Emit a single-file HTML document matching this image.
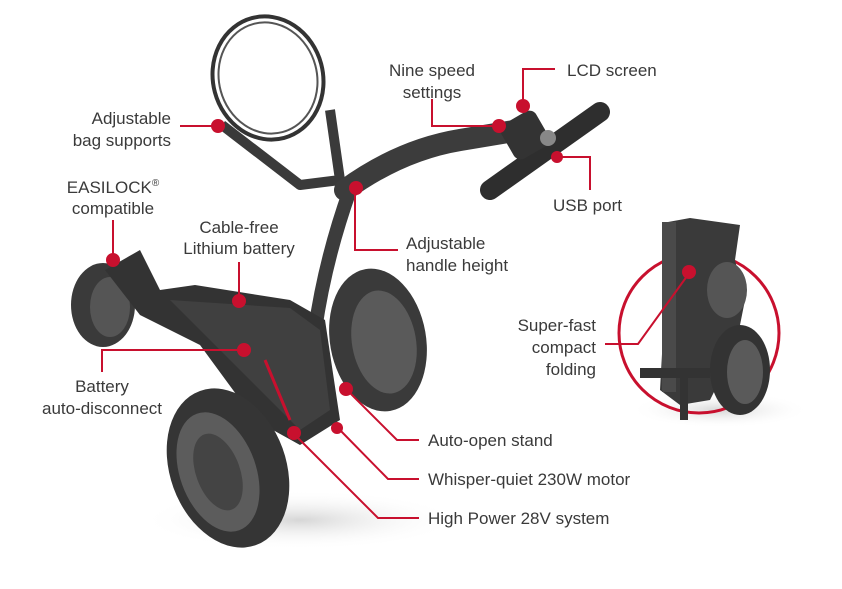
<!DOCTYPE html>
<html><head><style>
html,body{margin:0;padding:0;background:#fff;}
svg{display:block}
text{font-family:"Liberation Sans",sans-serif;font-size:17px;fill:#3a3a3a;}
</style></head><body>
<svg width="842" height="589" viewBox="0 0 842 589" xmlns="http://www.w3.org/2000/svg">
<defs>
<radialGradient id="sh" cx="50%" cy="50%" r="50%"><stop offset="0" stop-color="#bbb" stop-opacity=".6"/><stop offset="1" stop-color="#fff" stop-opacity="0"/></radialGradient>
</defs>
<!-- shadows -->
<ellipse cx="300" cy="520" rx="160" ry="30" fill="url(#sh)"/>
<ellipse cx="720" cy="410" rx="90" ry="18" fill="url(#sh)"/>

<!-- bag ring -->
<ellipse cx="268" cy="78" rx="55" ry="62" transform="rotate(-15 268 78)" fill="none" stroke="#333" stroke-width="4"/>
<ellipse cx="268" cy="78" rx="49" ry="56" transform="rotate(-15 268 78)" fill="none" stroke="#555" stroke-width="2"/>
<path d="M222 125 L300 185 L340 180 L330 110" fill="none" stroke="#3a3a3a" stroke-width="10" stroke-linejoin="round"/>
<!-- handle -->
<path d="M315 330 Q325 260 350 190" fill="none" stroke="#3c3c3c" stroke-width="14" stroke-linecap="round"/>
<path d="M345 190 Q400 150 460 140 L520 130" fill="none" stroke="#3c3c3c" stroke-width="22" stroke-linecap="round"/>
<path d="M490 190 L600 112" fill="none" stroke="#2e2e2e" stroke-width="20" stroke-linecap="round"/>
<rect x="505" y="115" width="40" height="40" rx="8" fill="#333" transform="rotate(-30 525 135)"/>
<circle cx="548" cy="138" r="8" fill="#888"/>
<!-- back right wheel -->
<ellipse cx="378" cy="340" rx="48" ry="72" transform="rotate(-10 378 340)" fill="#3a3a3a"/>
<ellipse cx="384" cy="342" rx="32" ry="52" transform="rotate(-10 384 342)" fill="#5a5a5a"/>
<!-- small left wheel -->
<ellipse cx="103" cy="305" rx="32" ry="42" fill="#3a3a3a"/>
<ellipse cx="110" cy="307" rx="20" ry="30" fill="#555"/>
<!-- body -->
<path d="M105 270 L140 250 L160 290 L195 285 L290 300 L325 320 L340 420 L300 445 L255 420 L200 345 L140 315 Z" fill="#333"/>
<path d="M170 300 L290 308 L320 330 L330 410 L300 430 Z" fill="#404040"/>
<path d="M265 360 L290 420" stroke="#c8102e" stroke-width="3"/>
<!-- front wheel -->
<ellipse cx="228" cy="468" rx="58" ry="82" transform="rotate(-20 228 468)" fill="#353535"/>
<ellipse cx="218" cy="472" rx="38" ry="62" transform="rotate(-20 218 472)" fill="#5c5c5c"/>
<ellipse cx="218" cy="472" rx="22" ry="40" transform="rotate(-20 218 472)" fill="#444"/>

<!-- folded trolley -->
<circle cx="699" cy="333" r="80" fill="none" stroke="#c8102e" stroke-width="3"/>
<path d="M668 222 L690 218 L740 225 L735 260 L745 300 L735 350 L710 400 L680 405 L660 390 L665 300 Z" fill="#3a3a3a"/>
<rect x="662" y="222" width="14" height="170" fill="#4a4a4a"/>
<ellipse cx="727" cy="290" rx="20" ry="28" fill="#555"/>
<ellipse cx="740" cy="370" rx="30" ry="45" fill="#333"/>
<ellipse cx="745" cy="372" rx="18" ry="32" fill="#5a5a5a"/>
<rect x="640" y="368" width="70" height="10" fill="#333"/>
<rect x="680" y="375" width="8" height="45" fill="#333"/>

<!-- connectors -->
<g fill="none" stroke="#c8102e" stroke-width="2">
<path d="M180 126 L216 126"/>
<path d="M432 152 L432 179 L497 179" transform="translate(0,-53)"/>
<path d="M555 69 L523 69 L523 106"/>
<path d="M590 190 L590 157 L557 157"/>
<path d="M113 220 L113 258"/>
<path d="M239 262 L239 300"/>
<path d="M355 190 L355 250 L398 250"/>
<path d="M102 372 L102 350 L243 350"/>
<path d="M605 344 L638 344 L690 272"/>
<path d="M419 440 L397 440 L347 390"/>
<path d="M419 479 L388 479 L338 428"/>
<path d="M419 518 L378 518 L293 433"/>
</g>
<g fill="#c8102e">
<circle cx="218" cy="126" r="7"/>
<circle cx="499" cy="126" r="7"/>
<circle cx="523" cy="106" r="7"/>
<circle cx="557" cy="157" r="6"/>
<circle cx="113" cy="260" r="7"/>
<circle cx="239" cy="301" r="7"/>
<circle cx="356" cy="188" r="7"/>
<circle cx="244" cy="350" r="7"/>
<circle cx="689" cy="272" r="7"/>
<circle cx="346" cy="389" r="7"/>
<circle cx="337" cy="428" r="6"/>
<circle cx="294" cy="433" r="7"/>
</g>

<!-- labels -->
<text x="171" y="124" text-anchor="end">Adjustable</text>
<text x="171" y="146" text-anchor="end">bag supports</text>
<text x="432" y="76" text-anchor="middle">Nine speed</text>
<text x="432" y="98" text-anchor="middle">settings</text>
<text x="567" y="76">LCD screen</text>
<text x="553" y="211">USB port</text>
<text x="113" y="193" text-anchor="middle">EASILOCK<tspan font-size="10" dy="-7">®</tspan></text>
<text x="113" y="214" text-anchor="middle">compatible</text>
<text x="239" y="233" text-anchor="middle">Cable-free</text>
<text x="239" y="254" text-anchor="middle">Lithium battery</text>
<text x="406" y="249">Adjustable</text>
<text x="406" y="271">handle height</text>
<text x="102" y="392" text-anchor="middle">Battery</text>
<text x="102" y="414" text-anchor="middle">auto-disconnect</text>
<text x="596" y="331" text-anchor="end">Super-fast</text>
<text x="596" y="353" text-anchor="end">compact</text>
<text x="596" y="375" text-anchor="end">folding</text>
<text x="428" y="446">Auto-open stand</text>
<text x="428" y="485">Whisper-quiet 230W motor</text>
<text x="428" y="524">High Power 28V system</text>
</svg>
</body></html>
